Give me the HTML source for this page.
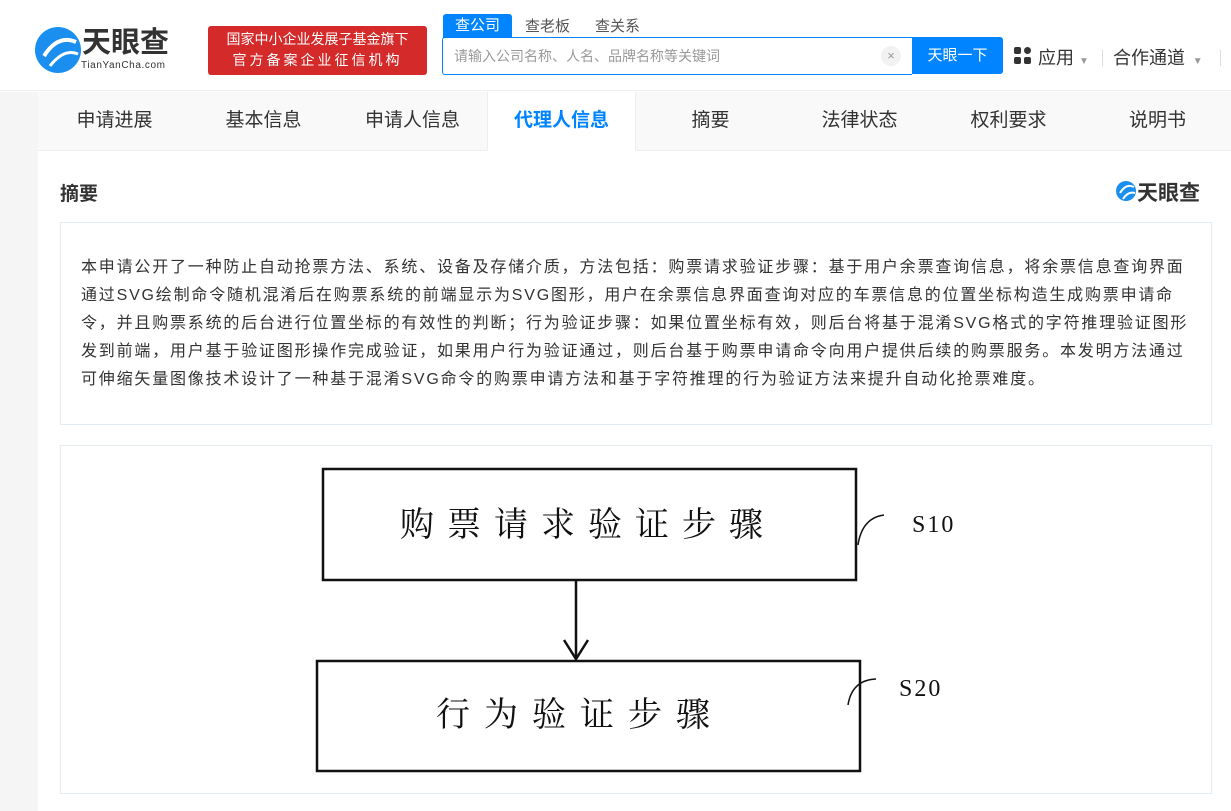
<!DOCTYPE html>
<html><head><meta charset="utf-8"><style>
*{margin:0;padding:0;box-sizing:border-box}
body{width:1231px;height:811px;overflow:hidden;background:#fff;font-family:"Liberation Sans","Noto Sans CJK SC",sans-serif;position:relative;color:#333}
.abs{position:absolute}
.tab{position:absolute;top:92px;height:58px;line-height:58px;font-size:19px;color:#333;text-align:center;width:149px}
.p{position:absolute;left:81px;font-size:16px;color:#333;white-space:nowrap;line-height:28px;letter-spacing:1.8px}
</style></head><body>
<div class="abs" style="left:0;top:0;width:1231px;height:91px;background:#fff;border-bottom:1px solid #eee"></div>
<svg class="abs" style="left:34px;top:26px" width="48" height="48"><circle cx="24" cy="24" r="23" fill="#1a8ff0"/><path d="M10 30 Q24 8 42 16" stroke="#fff" stroke-width="4" fill="none"/><path d="M16 40 Q30 22 44 28" stroke="#fff" stroke-width="3" fill="none"/></svg>
<div class="abs" style="left:82px;top:27px;font-size:29px;line-height:32px;font-weight:bold;color:#333">天眼查</div>
<div class="abs" style="left:81px;top:60px;font-size:10px;line-height:12px;color:#333;letter-spacing:0.6px">TianYanCha.com</div>
<div class="abs" style="left:208px;top:26px;width:219px;height:49px;background:#d42a2a;border-radius:3px;color:#fff;font-size:14px;text-align:center;line-height:21px;padding-top:3px">国家中小企业发展子基金旗下<br><span style="letter-spacing:3px">官方备案企业征信机构</span></div>
<div class="abs" style="left:443px;top:14px;width:69px;height:24px;background:#0084ff;color:#fff;font-size:15px;text-align:center;line-height:24px;border-radius:3px 3px 0 0">查公司</div>
<div class="abs" style="left:525px;top:15px;font-size:15px;color:#555">查老板</div>
<div class="abs" style="left:595px;top:15px;font-size:15px;color:#555">查关系</div>
<div class="abs" style="left:442px;top:37px;width:470px;height:38px;border:1px solid #0084ff;border-right:none;border-radius:3px 0 0 3px"></div>
<div class="abs" style="left:454px;top:46px;font-size:14px;color:#999">请输入公司名称、人名、品牌名称等关键词</div>
<div class="abs" style="left:881px;top:46px;width:20px;height:20px;border-radius:50%;background:#f2f2f2;color:#999;font-size:13px;text-align:center;line-height:20px">×</div>
<div class="abs" style="left:912px;top:37px;width:91px;height:37px;background:#0084ff;color:#fff;font-size:15px;text-align:center;line-height:37px;border-radius:0 3px 3px 0">天眼一下</div>
<svg class="abs" style="left:1014px;top:47px" width="18" height="18"><rect x="0" y="0" width="7" height="7" rx="2" fill="#333"/><rect x="10" y="0" width="7" height="7" rx="3.5" fill="#333"/><rect x="0" y="10" width="7" height="7" rx="2" fill="#333"/><rect x="10" y="10" width="7" height="7" rx="2" fill="#333"/></svg>
<div class="abs" style="left:1038px;top:44px;font-size:18px;color:#333">应用 <span style="font-size:10px;color:#999">▼</span></div>
<div class="abs" style="left:1102px;top:50px;width:1px;height:16px;background:#ddd"></div>
<div class="abs" style="left:1113px;top:44px;font-size:18px;color:#333">合作通道 <span style="font-size:10px;color:#999">&nbsp;▼</span></div>
<div class="abs" style="left:1220px;top:50px;width:1px;height:16px;background:#ddd"></div>
<div class="abs" style="left:0;top:92px;width:38px;height:719px;background:#f5f5f5"></div>
<div class="abs" style="left:38px;top:92px;width:1193px;height:59px;background:#f9f9f9;border-bottom:1px solid #eee"></div>
<div class="tab" style="left:40px">申请进展</div>
<div class="tab" style="left:189px">基本信息</div>
<div class="tab" style="left:338px">申请人信息</div>
<div class="tab" style="left:487px;background:#fff;color:#0084ff;font-weight:bold;border-left:1px solid #eee;border-right:1px solid #eee;height:59px">代理人信息</div>
<div class="tab" style="left:636px">摘要</div>
<div class="tab" style="left:785px">法律状态</div>
<div class="tab" style="left:934px">权利要求</div>
<div class="tab" style="left:1083px">说明书</div>
<div class="abs" style="left:60px;top:179px;font-size:19px;font-weight:bold;color:#333">摘要</div>
<svg class="abs" style="left:1115px;top:180px" width="22" height="22"><circle cx="11" cy="11" r="10" fill="#1a8ff0"/><path d="M5 13 Q11 3 19 7" stroke="#fff" stroke-width="2" fill="none"/><path d="M8 19 Q13 11 20 13" stroke="#fff" stroke-width="2" fill="none"/></svg>
<div class="abs" style="left:1137px;top:177px;font-size:21px;font-weight:bold;color:#333">天眼查</div>
<div class="abs" style="left:60px;top:222px;width:1152px;height:203px;border:1px solid #e4ecf3"></div>
<div class="p" style="top:254px">本申请公开了一种防止自动抢票方法、系统、设备及存储介质，方法包括：购票请求验证步骤：基于用户余票查询信息，将余票信息查询界面</div>
<div class="p" style="top:282px">通过SVG绘制命令随机混淆后在购票系统的前端显示为SVG图形，用户在余票信息界面查询对应的车票信息的位置坐标构造生成购票申请命</div>
<div class="p" style="top:310px">令，并且购票系统的后台进行位置坐标的有效性的判断；行为验证步骤：如果位置坐标有效，则后台将基于混淆SVG格式的字符推理验证图形</div>
<div class="p" style="top:338px">发到前端，用户基于验证图形操作完成验证，如果用户行为验证通过，则后台基于购票申请命令向用户提供后续的购票服务。本发明方法通过</div>
<div class="p" style="top:366px">可伸缩矢量图像技术设计了一种基于混淆SVG命令的购票申请方法和基于字符推理的行为验证方法来提升自动化抢票难度。</div>
<div class="abs" style="left:60px;top:445px;width:1152px;height:349px;border:1px solid #e4ecf3"></div>
<svg class="abs" style="left:0;top:0" width="1231" height="811">
<rect x="323" y="469" width="533" height="111" fill="none" stroke="#111" stroke-width="2.5"/>
<rect x="317" y="661" width="543" height="110" fill="none" stroke="#111" stroke-width="2.5"/>
<line x1="576" y1="581" x2="576" y2="658" stroke="#111" stroke-width="2.5"/>
<polyline points="564,640 576,659 588,640" fill="none" stroke="#111" stroke-width="2.5"/>
<path d="M858 545 Q862 518 884 515" fill="none" stroke="#111" stroke-width="1.5"/>
<path d="M848 705 Q852 680 876 679" fill="none" stroke="#111" stroke-width="1.5"/>
<text x="588" y="536" font-size="34" text-anchor="middle" font-family="Noto Serif CJK SC,serif" letter-spacing="13" fill="#111">购票请求验证步骤</text>
<text x="580" y="726" font-size="34" text-anchor="middle" font-family="Noto Serif CJK SC,serif" letter-spacing="14" fill="#111">行为验证步骤</text>
<text x="912" y="532" font-size="24" font-family="Liberation Serif,serif" letter-spacing="2" fill="#111">S10</text>
<text x="899" y="696" font-size="24" font-family="Liberation Serif,serif" letter-spacing="2" fill="#111">S20</text>
</svg>
</body></html>
